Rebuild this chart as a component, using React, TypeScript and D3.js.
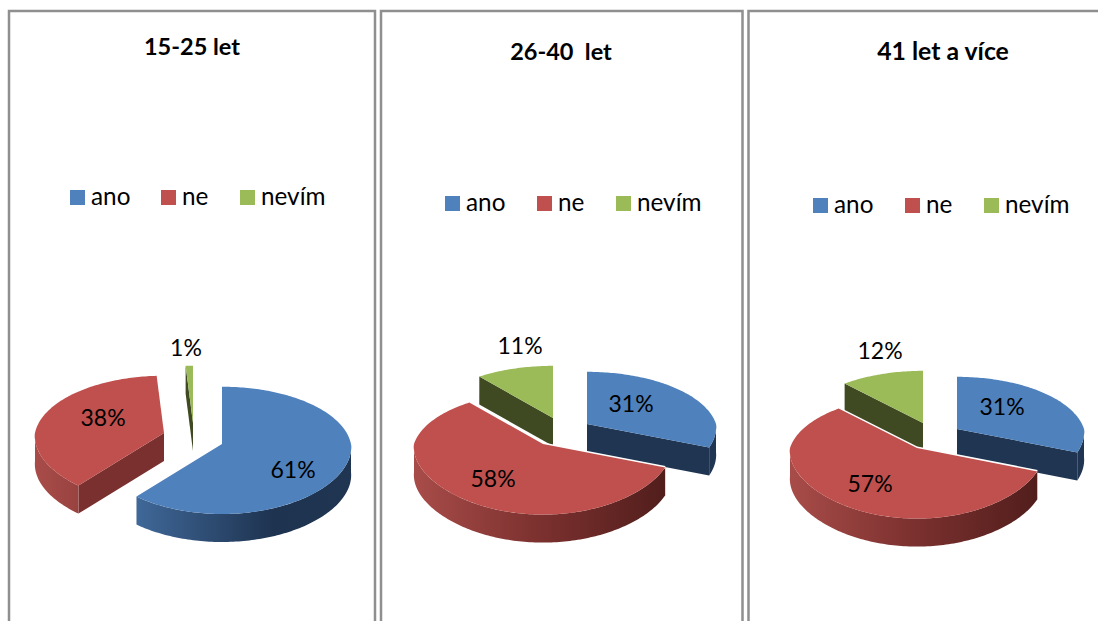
import React from "react";
import * as d3 from "d3";

// Survey answers by age group, in percent.
const categories = ["ano", "ne", "nevím"];
const groupTitles = ["15-25 let", "26-40  let", "41 let a více"];
const youngValues = [61, 38, 1];
const middleValues = [31, 58, 11];
const olderValues = [31, 57, 12];

const topColors = ["#4f81bd", "#c0504d", "#9bbb59"];
const cutColors = ["#1f3552", "#7a302e", "#3f4a22"];
const wallStops = [
  [["0", "#4a78b0"], ["0.18", "#3f6797"], ["0.7", "#1e3350"], ["1", "#1f3552"]],
  [["0", "#a84c49"], ["0.5", "#7a302e"], ["1", "#4f1d1b"]],
  [["0", "#5f7337"], ["1", "#3f4a22"]],
];

type Apex = [number, number];
const panels = [
  {
    values: youngValues, titleX: 192, titleY: 55, titleSize: 23.5,
    legendY: 197, legendX: [70, 161, 240],
    rx: 129, ry: 63, k: 0.1, depth: 28,
    apex: [[222, 444], [164, 433], [193, 423]] as Apex[],
    labels: [[293, 470], [103, 418], [186, 348]],
    gapEdges: false,
  },
  {
    values: middleValues, titleX: 561, titleY: 60, titleSize: 23.5,
    legendY: 203, legendX: [445, 537, 616],
    rx: 129, ry: 60, k: 0.15, depth: 28,
    apex: [[587, 424], [543, 444], [553, 418]] as Apex[],
    labels: [[631, 404], [493, 479], [520, 346]],
    gapEdges: true,
  },
  {
    values: olderValues, titleX: 943, titleY: 60, titleSize: 24.8,
    legendY: 205, legendX: [813, 905, 984],
    rx: 127, ry: 60, k: 0.15, depth: 28,
    apex: [[957, 429], [917, 448], [923, 423]] as Apex[],
    labels: [[1002, 407], [870, 484], [880, 351]],
    gapEdges: true,
  },
];

const FONT = "Lato, 'Open Sans', sans-serif";
const pieLayout = d3.pie<number>().sort(null);
const outline = d3.line<[number, number]>().curve(d3.curveLinear);

// Project a rim angle (clockwise from the far side) onto the tilted plate.
// The far half narrows with distance; the near half barely widens.
function project(a: number, apex: Apex, p: { rx: number; ry: number; k: number }, dy = 0): [number, number] {
  const c = Math.cos(a);
  const sy = 1 / (1 + p.k * c);
  const sx = c >= 0 ? sy : 1 / (1 + 0.05 * c);
  return [apex[0] + p.rx * Math.sin(a) * sx, apex[1] - p.ry * c * sy + dy];
}

function rim(a0: number, a1: number, apex: Apex, p: any, dy = 0): [number, number][] {
  const n = Math.max(2, Math.ceil((a1 - a0) / 0.02));
  return d3.range(n + 1).map((i) => project(a0 + ((a1 - a0) * i) / n, apex, p, dy));
}

function cutFace(apex: Apex, pt: [number, number], depth: number): string {
  return outline([apex, pt, [pt[0], pt[1] + depth], [apex[0], apex[1] + depth]]) + "Z";
}

function Slice({ arc, i, p, panelIdx }: any) {
  const apex: Apex = p.apex[i];
  const a0 = arc.startAngle;
  const a1 = arc.endAngle;
  const top = outline([apex, ...rim(a0, a1, apex, p)]) + "Z";

  // The rim wall is only visible along the near half of the plate.
  const w0 = Math.max(a0, Math.PI / 2);
  const w1 = Math.min(a1, (Math.PI * 3) / 2);
  const wall =
    w1 > w0
      ? outline([...rim(w0, w1, apex, p), ...rim(w0, w1, apex, p, p.depth).reverse()]) + "Z"
      : null;

  // A cut face shows when the slice's edge turns towards the viewer.
  const startPt = project(a0, apex, p);
  const endPt = project(a1, apex, p);
  const faces: string[] = [];
  if (a0 > Math.PI) faces.push(cutFace(apex, startPt, p.depth));
  if (a1 < Math.PI) faces.push(cutFace(apex, endPt, p.depth));

  const gradId = `wall-${panelIdx}-${i}`;
  return (
    <g>
      {faces.map((d, j) => (
        <path key={j} d={d} fill={cutColors[i]} />
      ))}
      {wall && <path d={wall} fill={`url(#${gradId})`} />}
      {/* Thin white seam where this slice sits in front of its neighbours */}
      {p.gapEdges && i === 1 && (
        <path d={outline([startPt, apex, endPt])!} fill="none" stroke="#fff" strokeWidth={3} />
      )}
      <path d={top} fill={topColors[i]} />
    </g>
  );
}

function Panel({ p, idx }: any) {
  const arcs = pieLayout(p.values);
  const drawOrder = [2, 0, 1];
  return (
    <g>
      <defs>
        {[0, 1, 2].map((i) => (
          <linearGradient
            key={i}
            id={`wall-${idx}-${i}`}
            gradientUnits="userSpaceOnUse"
            x1={p.apex[i][0] - p.rx}
            x2={p.apex[i][0] + p.rx}
            y1={0}
            y2={0}
          >
            {wallStops[i].map(([o, c]) => (
              <stop key={o} offset={o} stopColor={c} />
            ))}
          </linearGradient>
        ))}
      </defs>
      <text x={p.titleX} y={p.titleY} textAnchor="middle" fontFamily={FONT} fontWeight={700} fontSize={p.titleSize} fill="#000" xmlSpace="preserve">
        {groupTitles[idx]}
      </text>
      {categories.map((c, i) => (
        <g key={c}>
          <rect x={p.legendX[i]} y={p.legendY - 7} width={15} height={15} fill={topColors[i]} />
          <text x={p.legendX[i] + 21} y={p.legendY + 8} fontFamily={FONT} fontSize={24.3} fill="#000">
            {c}
          </text>
        </g>
      ))}
      {drawOrder.map((i) => (
        <Slice key={i} arc={arcs[i]} i={i} p={p} panelIdx={idx} />
      ))}
      {p.values.map((v: number, i: number) => (
        <text key={i} x={p.labels[i][0]} y={p.labels[i][1] + 8} textAnchor="middle" fontFamily={FONT} fontSize={23} fill="#000">
          {v}%
        </text>
      ))}
    </g>
  );
}

export default function App() {
  const frame = "#8f8f8f";
  return (
    <svg
      width={1098}
      height={621}
      viewBox="0 0 1098 621"
      style={{ position: "absolute", left: 0, top: 0, background: "#fff" }}
    >
      <rect width={1098} height={621} fill="#fff" />
      {/* Panel frames */}
      <path d="M9 622V11H375V622" fill="none" stroke={frame} strokeWidth={2.5} />
      <path d="M381 622V11H742.5V622" fill="none" stroke={frame} strokeWidth={2.5} />
      <path d="M748.5 622V11H1098" fill="none" stroke={frame} strokeWidth={2.5} />
      {panels.map((p, i) => (
        <Panel key={i} p={p} idx={i} />
      ))}
    </svg>
  );
}
